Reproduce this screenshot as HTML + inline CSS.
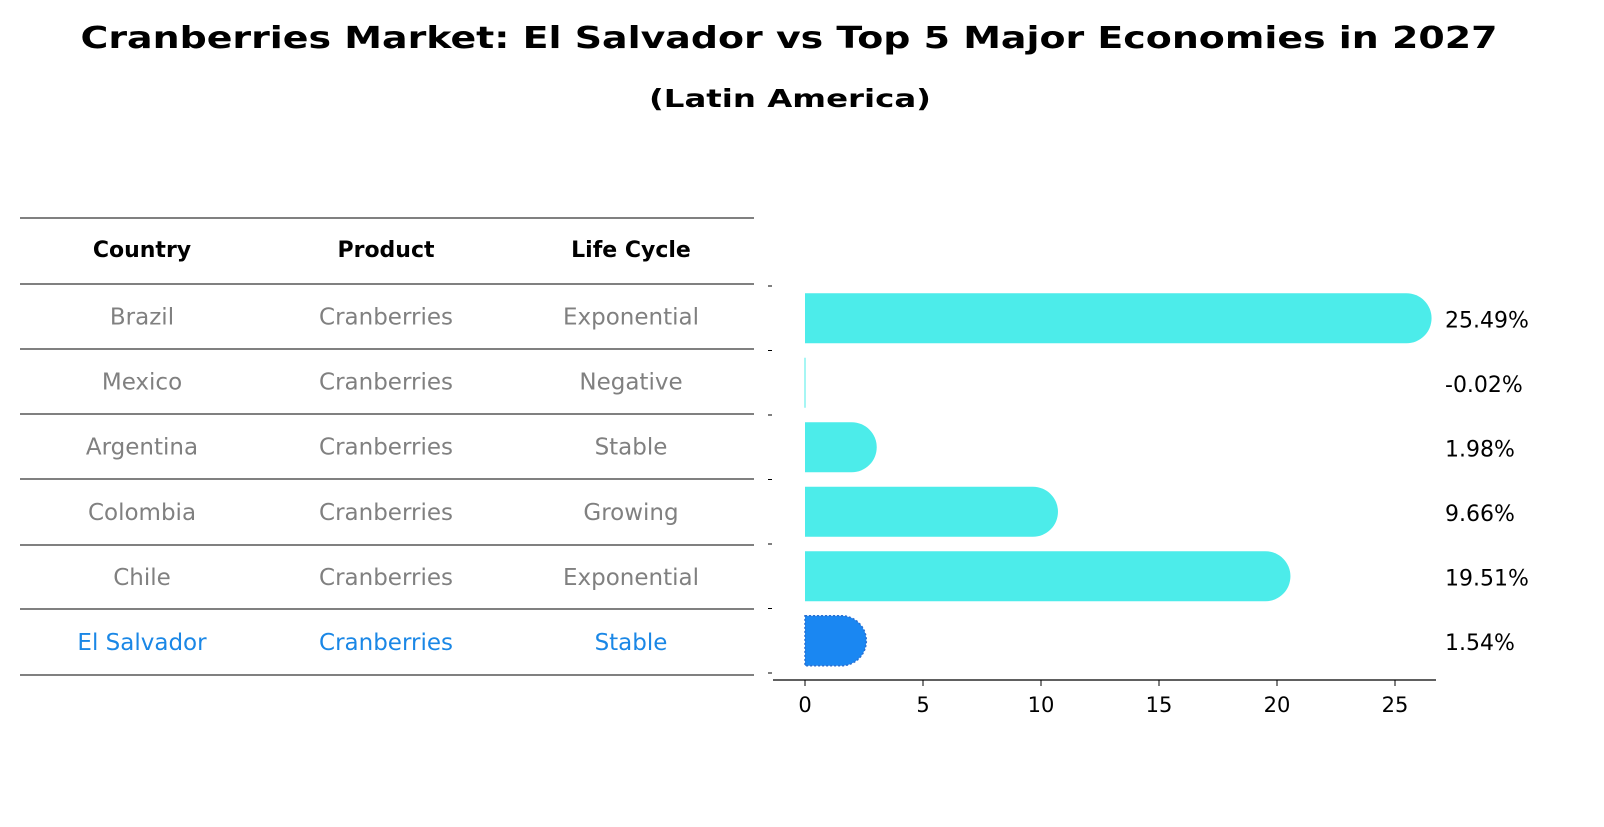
<!DOCTYPE html>
<html><head><meta charset="utf-8"><style>
body{margin:0;background:#fff;font-family:"DejaVu Sans","Liberation Sans",sans-serif;}
svg text{font-family:"DejaVu Sans","Liberation Sans",sans-serif;}
</style></head><body>
<svg width="1604" height="823" viewBox="0 0 1604 823">
<text x="789" y="48" text-anchor="middle" font-size="30" font-weight="bold" textLength="1417" lengthAdjust="spacingAndGlyphs">Cranberries Market: El Salvador vs Top 5 Major Economies in 2027</text>
<text x="790" y="107" text-anchor="middle" font-size="25" font-weight="bold" textLength="282" lengthAdjust="spacingAndGlyphs">(Latin America)</text>
<g id="table"></g>
<g id="bars"></g>
</svg>
<script>
const countries=["Brazil","Mexico","Argentina","Colombia","Chile","El Salvador"];
const products=["Cranberries","Cranberries","Cranberries","Cranberries","Cranberries","Cranberries"];
const lifeCycles=["Exponential","Negative","Stable","Growing","Exponential","Stable"];
const values=[25.49,-0.02,1.98,9.66,19.51,1.54];
const valueLabels=["25.49%","-0.02%","1.98%","9.66%","19.51%","1.54%"];
const xTicks=[0,5,10,15,20,25];
const NS="http://www.w3.org/2000/svg";
function mk(tag,attrs,parent,txt){const e=document.createElementNS(NS,tag);for(const k in attrs)e.setAttribute(k,attrs[k]);if(txt!==undefined)e.textContent=txt;parent.appendChild(e);return e;}
const tbl=document.getElementById('table');
const lineYs=[218,284,349,414,479,545,609,675];
lineYs.forEach(y=>{const l=mk('line',{x1:20,x2:754,y1:y,y2:y,stroke:'#000','stroke-width':1},tbl);

});
const colX=[142,386,631];
["Country","Product","Life Cycle"].forEach((h,i)=>{const t=mk('text',{x:colX[i],y:257,'text-anchor':'middle','font-size':22,'font-weight':'bold'},tbl,h);

});
countries.forEach((c,r)=>{const y=(lineYs[r+1]+lineYs[r+2])/2+8;const col=r===countries.length-1?'#1a87e6':'#808080';
[c,products[r],lifeCycles[r]].forEach((v,i)=>{const t=mk('text',{x:colX[i],y:y,'text-anchor':'middle','font-size':23,fill:col},tbl,v);

});});
const g=document.getElementById('bars');
const x0=805,pxPer=(1395-805)/25;
const xs=v=>x0+v*pxPer;
const rowTop=286,rowStep=64.5,barH=50;
const yc=i=>rowTop+rowStep*i+rowStep/2;
const ax=mk('line',{x1:773,x2:1436,y1:680,y2:680,stroke:'#000','stroke-width':1.3},g);


for(let i=0;i<=countries.length;i++){const t=mk('line',{x1:768,x2:772,y1:rowTop+rowStep*i,y2:rowTop+rowStep*i,stroke:'#000'},g);

}
xTicks.forEach(v=>{const t=mk('line',{x1:xs(v),x2:xs(v),y1:680,y2:686,stroke:'#000'},g);


const l=mk('text',{x:xs(v),y:712,'text-anchor':'middle','font-size':21},g,String(v));

});
values.forEach((v,i)=>{const last=i===values.length-1;const col=last?'#1a87f2':'#4cecea';
const c=yc(i),top=c-barH/2,xe=xs(v),r=barH/2;let d;
if(Math.abs(xe-x0)<3){const b=mk('rect',{x:x0-0.5,y:top,width:1,height:barH,fill:col},g);

}
else{d=`M${x0},${top} H${xe} A${r},${r} 0 0 1 ${xe},${top+barH} H${x0} Z`;
const b=mk('path',{d:d,fill:col},g);
if(last){b.setAttribute('stroke','#2a6fd0');b.setAttribute('stroke-dasharray','2,2');b.setAttribute('stroke-width','1.5');}

}
const t=mk('text',{x:1445,y:c+9,'font-size':22},g,valueLabels[i]);

});
</script>
</body></html>
